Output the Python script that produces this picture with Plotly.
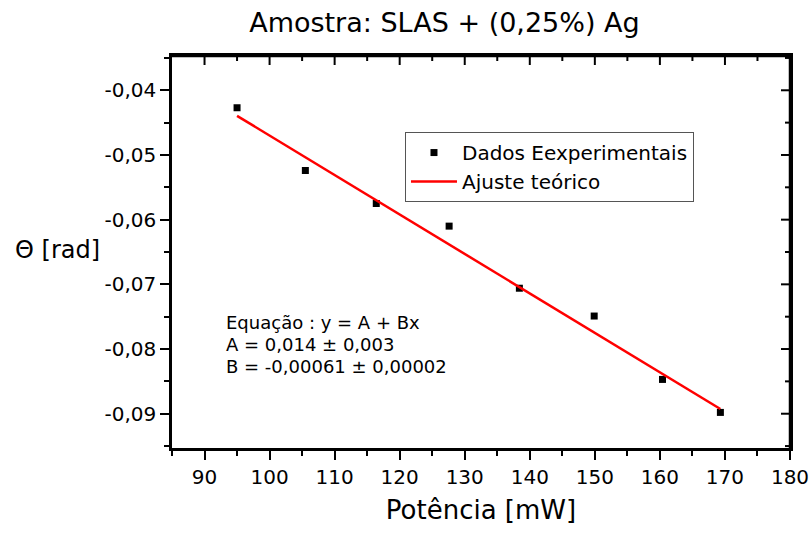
import plotly.graph_objects as go

# Measured data: laser power (mW) vs. rotation angle Theta (rad)
x_power = [95.0, 105.5, 116.4, 127.6, 138.4, 149.9, 160.4, 169.3]
theta = [-0.0427, -0.0524, -0.0575, -0.0610, -0.0706, -0.0749, -0.0847, -0.0898]

# Linear fit parameters y = A + Bx
fit_A = 0.014
fit_B = -0.00061
fit_x = [x_power[0], x_power[-1]]
fit_y = [fit_A + fit_B * v for v in fit_x]

# Tick positions and labels
x_ticks = [90, 100, 110, 120, 130, 140, 150, 160, 170, 180]
x_tick_labels = ["90", "100", "110", "120", "130", "140", "150", "160", "170", "180"]
x_minor = [85, 95, 105, 115, 125, 135, 145, 155, 165, 175]
y_ticks = [-0.09, -0.08, -0.07, -0.06, -0.05, -0.04]
y_tick_labels = ["-0,09", "-0,08", "-0,07", "-0,06", "-0,05", "-0,04"]
y_minor = [-0.095, -0.085, -0.075, -0.065, -0.055, -0.045, -0.035]

equation_lines = [
    "Equação : y = A + Bx",
    "A = 0,014 ± 0,003",
    "B = -0,00061 ± 0,00002",
]

FONT = "DejaVu Sans, Verdana, sans-serif"
x_range = [85, 180]
y_range = [-0.0953, -0.0347]
MAJOR_LEN, MINOR_LEN = 9, 5

fig = go.Figure()
fig.add_trace(go.Scatter(
    x=x_power, y=theta, mode="markers", name="Dados Eexperimentais",
    marker=dict(symbol="square", size=7, color="black"),
))
fig.add_trace(go.Scatter(
    x=fit_x, y=fit_y, mode="lines", name="Ajuste teórico",
    line=dict(color="red", width=2.5),
))

axis_common = dict(
    showline=True, linecolor="black", linewidth=2.5, mirror=True,
    showgrid=False, zeroline=False, automargin=False,
    tickcolor="black", tickwidth=2, ticklen=MAJOR_LEN,
)

fig.update_layout(
    width=811, height=533,
    margin=dict(l=172, r=21, t=56, b=85),
    paper_bgcolor="white", plot_bgcolor="white",
    font=dict(family=FONT, color="black"),
    title=dict(
        text="Amostra: SLAS + (0,25%) Ag",
        x=0.548, xref="container", xanchor="center",
        y=0.958, yref="container", yanchor="middle",
        font=dict(size=27, family=FONT, color="black"),
    ),
    xaxis=dict(
        range=x_range, tickmode="array", tickvals=x_ticks, ticktext=x_tick_labels,
        ticks="outside", tickfont=dict(size=20),
        minor=dict(tickmode="array", tickvals=x_minor, ticks="outside",
                   ticklen=MINOR_LEN, tickwidth=2, tickcolor="black"),
        title=dict(text="Potência [mW]", font=dict(size=26), standoff=14),
        **axis_common,
    ),
    yaxis=dict(
        range=y_range, tickmode="array", tickvals=y_ticks, ticktext=y_tick_labels,
        ticks="outside", tickfont=dict(size=20),
        minor=dict(tickmode="array", tickvals=y_minor, ticks="outside",
                   ticklen=MINOR_LEN, tickwidth=2, tickcolor="black"),
        **axis_common,
    ),
    legend=dict(
        x=0.377, y=0.806, xanchor="left", yanchor="top",
        bgcolor="white", bordercolor="#555555", borderwidth=1,
        font=dict(size=20, family=FONT), itemwidth=46,
    ),
    showlegend=True,
)

# Closed frame: top and right border lines
frame = dict(color="black", width=2.5)
fig.add_shape(type="line", xref="paper", yref="paper", x0=0, x1=1, y0=1, y1=1,
              line=frame, layer="above")
fig.add_shape(type="line", xref="paper", yref="paper", x0=1, x1=1, y0=0, y1=1,
              line=frame, layer="above")

# Inward-pointing ticks on the top and right borders
tick_line = dict(color="black", width=2)
for vals, length in ((x_ticks, MAJOR_LEN), (x_minor, MINOR_LEN)):
    for t in vals:
        if x_range[0] < t < x_range[1]:
            fig.add_shape(type="line", xref="x", yref="paper", x0=t, x1=t,
                          ysizemode="pixel", yanchor=1, y0=0, y1=-length,
                          line=tick_line, layer="above")
for vals, length in ((y_ticks, MAJOR_LEN), (y_minor, MINOR_LEN)):
    for t in vals:
        if y_range[0] < t < y_range[1]:
            fig.add_shape(type="line", xref="paper", yref="y", y0=t, y1=t,
                          xsizemode="pixel", xanchor=1, x0=0, x1=-length,
                          line=tick_line, layer="above")

# Horizontal y-axis title, left of the tick labels
fig.add_annotation(
    text="Θ [rad]", xref="paper", yref="paper", x=-0.185, y=0.505,
    xanchor="center", yanchor="middle", showarrow=False,
    font=dict(size=24, family=FONT, color="black"),
)

for text, ypos in zip(equation_lines, [0.321, 0.265, 0.209]):
    fig.add_annotation(
        text=text, xref="paper", yref="paper", x=0.0858, y=ypos,
        xanchor="left", yanchor="middle", showarrow=False, borderpad=0,
        font=dict(size=18, family=FONT, color="black"),
    )

fig.write_html("out.html")
